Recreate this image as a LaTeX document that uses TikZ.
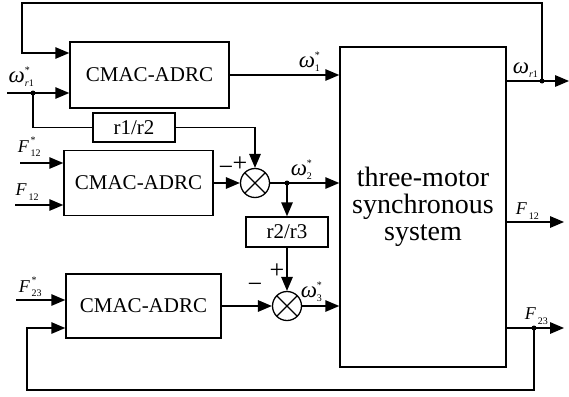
\documentclass[tikz,border=0pt]{standalone}
\usepackage{fontspec}
\setmainfont{Liberation Serif}
\usetikzlibrary{arrows.meta,calc}
\newcommand\sgn[3]{#1\rlap{\raisebox{-4.5pt}{\fontsize{10}{10}\selectfont #3}}\raisebox{8.5pt}{\fontsize{10}{10}\selectfont #2}}
\newcommand\om{{\fontsize{23}{23}\selectfont\itshape ω}}
\newcommand\FF{{\fontsize{18}{18}\selectfont\itshape F\kern2pt}}
\begin{document}
\begin{tikzpicture}[x=1pt,y=-1pt,
  every path/.style={line width=1.5pt},
  blk/.style={draw,line width=1.5pt,inner sep=0pt,font=\fontsize{21}{21}\selectfont},
  arr/.style={-{Triangle[length=14pt,width=11.5pt]},line width=1.5pt},
  ln/.style={line width=1.5pt},
  dotn/.style={circle,fill,inner sep=0pt,minimum size=5pt},
  sumn/.style={circle,draw,line width=1.3pt,minimum size=29pt,inner sep=0pt,
    path picture={\draw[line width=1.1pt] (path picture bounding box.north west)--(path picture bounding box.south east)
      (path picture bounding box.north east)--(path picture bounding box.south west);}},
  lab/.style={inner sep=0pt,font=\fontsize{18}{18}\selectfont},
  sig/.style={inner sep=0pt,anchor=west}]
\useasboundingbox (0,0) rectangle (569,396);
% blocks
\node[blk,minimum width=159pt,minimum height=66pt] (b1) at (149.5,75) {CMAC-ADRC};
\node[blk,minimum width=149pt,minimum height=65pt] (b2) at (138.5,183) {CMAC-ADRC};
\node[blk,minimum width=155pt,minimum height=64pt] (b3) at (143.5,306) {CMAC-ADRC};
\node[blk,minimum width=166pt,minimum height=320pt,align=center,font=\fontsize{28}{27}\selectfont] (big) at (423,207) {three-motor\\synchronous\\system};
\node[blk,minimum width=82pt,minimum height=29pt] (r12) at (134,127.5) {r1/r2};
\node[blk,minimum width=82pt,minimum height=30pt] (r23) at (287,232) {r2/r3};
\node[sumn] (s1) at (255,183) {};
\node[sumn] (s2) at (287,306) {};
% coordinates
\coordinate (in1) at (7,93);
\coordinate (in2) at (20,163);
\coordinate (in3) at (15,205);
\coordinate (in4) at (16,300);
\coordinate (fbTL) at (22,3);
\coordinate (fbBL) at (27,390);
\coordinate (o1) at (569,81);
\coordinate (o2) at (564,222);
\coordinate (o3) at (564,328);
\node[dotn] (dA) at (33,93) {};
\node[dotn] (d1) at (542,81) {};
\node[dotn] (d2) at (287,183) {};
\node[dotn] (d3) at (534,328) {};
% block 1
\draw[arr] (in1) -- (in1 -| b1.west);
\draw[arr] (d1.center) |- (fbTL) |- ([yshift=22pt]b1.west);
\draw[ln] (dA.center) |- (r12.west);
\draw[arr] (r12.east) -| (s1.north);
\draw[arr] (b1.east) -- (b1.east -| big.west);
% block 2
\draw[arr] (in2) -- (in2 -| b2.west);
\draw[arr] (in3) -- (in3 -| b2.west);
\draw[arr] (b2.east) -- (s1.west);
\draw[arr] (s1.east) -- (s1.east -| big.west);
\draw[arr] (d2.center) -- (r23.north);
\draw[arr] (r23.south) -- (s2.north);
% block 3
\draw[arr] (in4) -- (in4 -| b3.west);
\draw[arr] (b3.east |- s2) -- (s2.west);
\draw[arr] (s2.east) -- (s2.east -| big.west);
\draw[arr] (d3.center) |- (fbBL) |- ([yshift=-22pt]b3.west);
% outputs
\draw[arr] (big.east |- o1) -- (o1);
\draw[arr] (big.east |- o2) -- (o2);
\draw[arr] (big.east |- o3) -- (o3);
% labels
\node[sig] (lwr1s) at (8,77) {\sgn{\om}{*}{\itshape r\upshape 1}};
\node[sig] (lw1s) at (298,62) {\sgn{\om}{*}{1}};
\node[sig] (lw2s) at (290,170) {\sgn{\om}{*}{2}};
\node[sig] (lw3s) at (300,292) {\sgn{\om}{*}{3}};
\node[sig] (lwr1) at (512,70) {\sgn{\om}{}{\itshape r\upshape 1}};
\node[sig] (lF12s) at (17,147) {\sgn{\FF}{*}{12}};
\node[sig] (lF12) at (15,192) {\sgn{\FF}{}{12}};
\node[sig] (lF23s) at (18,287) {\sgn{\FF}{*}{23}};
\node[sig] (lF12o) at (515,211) {\sgn{\FF}{}{12}};
\node[sig] (lF23o) at (524,316) {\sgn{\FF}{}{23}};
\node[lab,font=\fontsize{26}{26}\selectfont] (p1) at (240,164) {+};
\node[lab,font=\fontsize{26}{26}\selectfont] (m1) at (226,171) {−};
\node[lab,font=\fontsize{26}{26}\selectfont] (p2) at (277,271) {+};
\node[lab,font=\fontsize{26}{26}\selectfont] (m2) at (255,288) {−};
\end{tikzpicture}
\end{document}
